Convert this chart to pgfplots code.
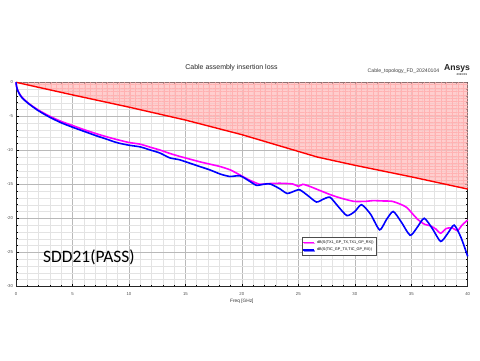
\documentclass[border=0pt]{standalone}
\usepackage{fontspec}
\setmainfont{Liberation Sans}
\newfontfamily\carlito{Carlito}
\usepackage{pgfplots}
\pgfplotsset{compat=1.18}
\usetikzlibrary{patterns.meta,shadows}
\definecolor{maskfill}{RGB}{255,190,190}
\definecolor{mag}{RGB}{255,0,255}
\definecolor{blu}{RGB}{0,0,255}
\begin{document}
\begin{tikzpicture}[x=1bp,y=1bp]
\path[use as bounding box] (0,0) rectangle (480,360);
\begin{axis}[
  at={(16bp,73.7bp)}, anchor=south west,
  scale only axis, width=451.7bp, height=204bp,
  xmin=0, xmax=40, ymin=-30, ymax=0,
  xtick={0,5,...,40}, ytick={-30,-25,...,0},
  yticklabels={{-30},{-25},{-20},{-15},{-10},{-5},{0}},
  xticklabels={0,5,10,15,20,25,30,35,40},
  minor x tick num=4, minor y tick num=4,
  grid=both,
  major grid style={gray!55, line width=0.5bp},
  minor grid style={gray!22, line width=0.4bp},
  axis line style={black!85, line width=0.8bp},
  tick style={black, line width=0.5bp},
  major tick length=2.5bp, minor tick length=1.5bp,
  tick align=inside,
  ticklabel style={font=\fontsize{4.3}{5}\selectfont, text=black!70},
  xticklabel style={yshift=-2.5bp},
  yticklabel style={xshift=0.5bp},
  xlabel={Freq [GHz]},
  xlabel style={font=\fontsize{4.8}{5.5}\selectfont, text=black!80, yshift=3.5bp},
  clip=false,
  legend style={at={(0.6325,0.24)}, anchor=north west,
    font=\fontsize{3.8}{4.5}\selectfont, draw=black!70, line width=0.4bp,
    inner sep=0.8bp, row sep=-0.6bp, fill=white,
    drop shadow={shadow xshift=1bp, shadow yshift=-1bp, fill=black!50}},
  legend cell align=left,
  legend image code/.code={\draw[#1, line width=1.4bp] (0bp,0bp) -- (11bp,0bp);},
]
% mask shaded region
\addplot[draw=none, fill=maskfill, fill opacity=0.75, forget plot] coordinates {
(0,0) (5,-1.85) (10,-3.65) (15,-5.55) (20,-7.7) (26.7,-11.0) (30,-12.2) (35,-13.9) (40,-15.7) (40,0)} -- cycle;
\addplot[draw=none, pattern={Lines[angle=90,distance=5.65bp,line width=0.3bp]}, pattern color=red!30, forget plot] coordinates {
(0,0) (5,-1.85) (10,-3.65) (15,-5.55) (20,-7.7) (26.7,-11.0) (30,-12.2) (35,-13.9) (40,-15.7) (40,0)} -- cycle;
\addplot[draw=none, pattern={Lines[angle=0,distance=3.4bp,line width=0.3bp]}, pattern color=red!30, forget plot] coordinates {
(0,0) (5,-1.85) (10,-3.65) (15,-5.55) (20,-7.7) (26.7,-11.0) (30,-12.2) (35,-13.9) (40,-15.7) (40,0)} -- cycle;
\addplot[red, line width=1.4bp, forget plot] coordinates {
(0,0) (5,-1.85) (10,-3.65) (15,-5.55) (20,-7.7) (26.7,-11.0) (30,-12.2) (35,-13.9) (40,-15.7)};
% magenta TX1
\addplot[mag, line width=1.6bp, smooth, tension=0.4] coordinates {
(0,0) (0.05,-0.6) (0.15,-1.15) (0.3,-1.65) (0.5,-2.15) (0.8,-2.65) (1.24,-3.25) (2,-4.1) (3,-5.0) (4,-5.75) (5,-6.35) (6,-6.95) (7,-7.5) (8,-8.0) (9,-8.45) (10,-8.85) (11,-9.1) (12,-9.6) (12.75,-9.96) (13.6,-10.45) (14.5,-10.9) (15.4,-11.3) (16.3,-11.7) (17.2,-12.05) (18.1,-12.4) (19,-12.9) (19.8,-13.6) (20.7,-14.4) (21.6,-15.0) (22.3,-14.9) (23.4,-14.85) (24.5,-14.95) (25.0,-15.3) (25.4,-15.0) (26.0,-15.3) (26.6,-15.7) (27.8,-16.5) (28.7,-17.0) (29.9,-17.5) (31.0,-17.5) (31.6,-17.4) (32.5,-17.45) (33.3,-17.5) (34.0,-17.9) (34.6,-18.4) (35.2,-19.5) (35.6,-20.2) (36.2,-20.9) (36.7,-21.1) (37.2,-21.6) (37.6,-22.2) (38.1,-21.5) (38.6,-21.4) (39.1,-21.8) (39.5,-21.0) (40,-20.25)};
\addlegendentry{dB(S(TX1\_GP\_TX,TX1\_GP\_RX))}
% blue TIC
\addplot[blu, line width=1.6bp, smooth, tension=0.4] coordinates {
(0,0) (0.05,-0.6) (0.15,-1.2) (0.3,-1.7) (0.5,-2.2) (0.8,-2.7) (1.24,-3.3) (2,-4.2) (3,-5.15) (4,-5.95) (5,-6.6) (6,-7.2) (7,-7.8) (8,-8.35) (9,-8.9) (10,-9.25) (11,-9.5) (11.9,-9.96) (12.75,-10.4) (13.6,-11.1) (14.5,-11.4) (15.4,-11.9) (16.3,-12.4) (17.2,-12.9) (18.1,-13.5) (18.95,-13.85) (19.84,-13.75) (20.73,-14.6) (21.3,-15.15) (21.9,-15.0) (22.5,-14.95) (23.3,-15.6) (24.0,-16.35) (24.5,-16.1) (25.1,-15.8) (25.8,-16.6) (26.6,-17.6) (27.2,-17.2) (27.8,-16.9) (28.5,-18.2) (29.3,-19.6) (30.0,-19.0) (30.6,-18.0) (31.4,-19.4) (32.2,-21.7) (32.8,-20.2) (33.4,-19.0) (34.1,-20.5) (34.9,-22.5) (35.5,-21.4) (36.15,-20.0) (36.9,-21.6) (37.6,-23.4) (38.2,-22.3) (38.8,-21.0) (39.4,-22.8) (40,-25.6)};
\addlegendentry{dB(S(TIC\_GP\_TX,TIC\_GP\_RX))}
\node[anchor=base west, font=\carlito\fontsize{17.5}{20}\selectfont, inner sep=0] at (axis cs:2.39,-26.57) {SDD21(PASS)};
\end{axis}
\node[font=\fontsize{7}{8}\selectfont, text=black!85] at (231.5,292.5) {Cable assembly insertion loss};
\node[font=\fontsize{5.2}{6}\selectfont, text=black!75] at (403.5,289.3) {Cable\_topology\_FD\_20240104};
\node[font=\bfseries\fontsize{8.7}{9}\selectfont, text=black!85] at (457,291.7) {Ansys};
\node[font=\bfseries\fontsize{2.8}{3}\selectfont, text=black!75] at (462,285.6) {2023 R1};
\end{tikzpicture}
\end{document}
